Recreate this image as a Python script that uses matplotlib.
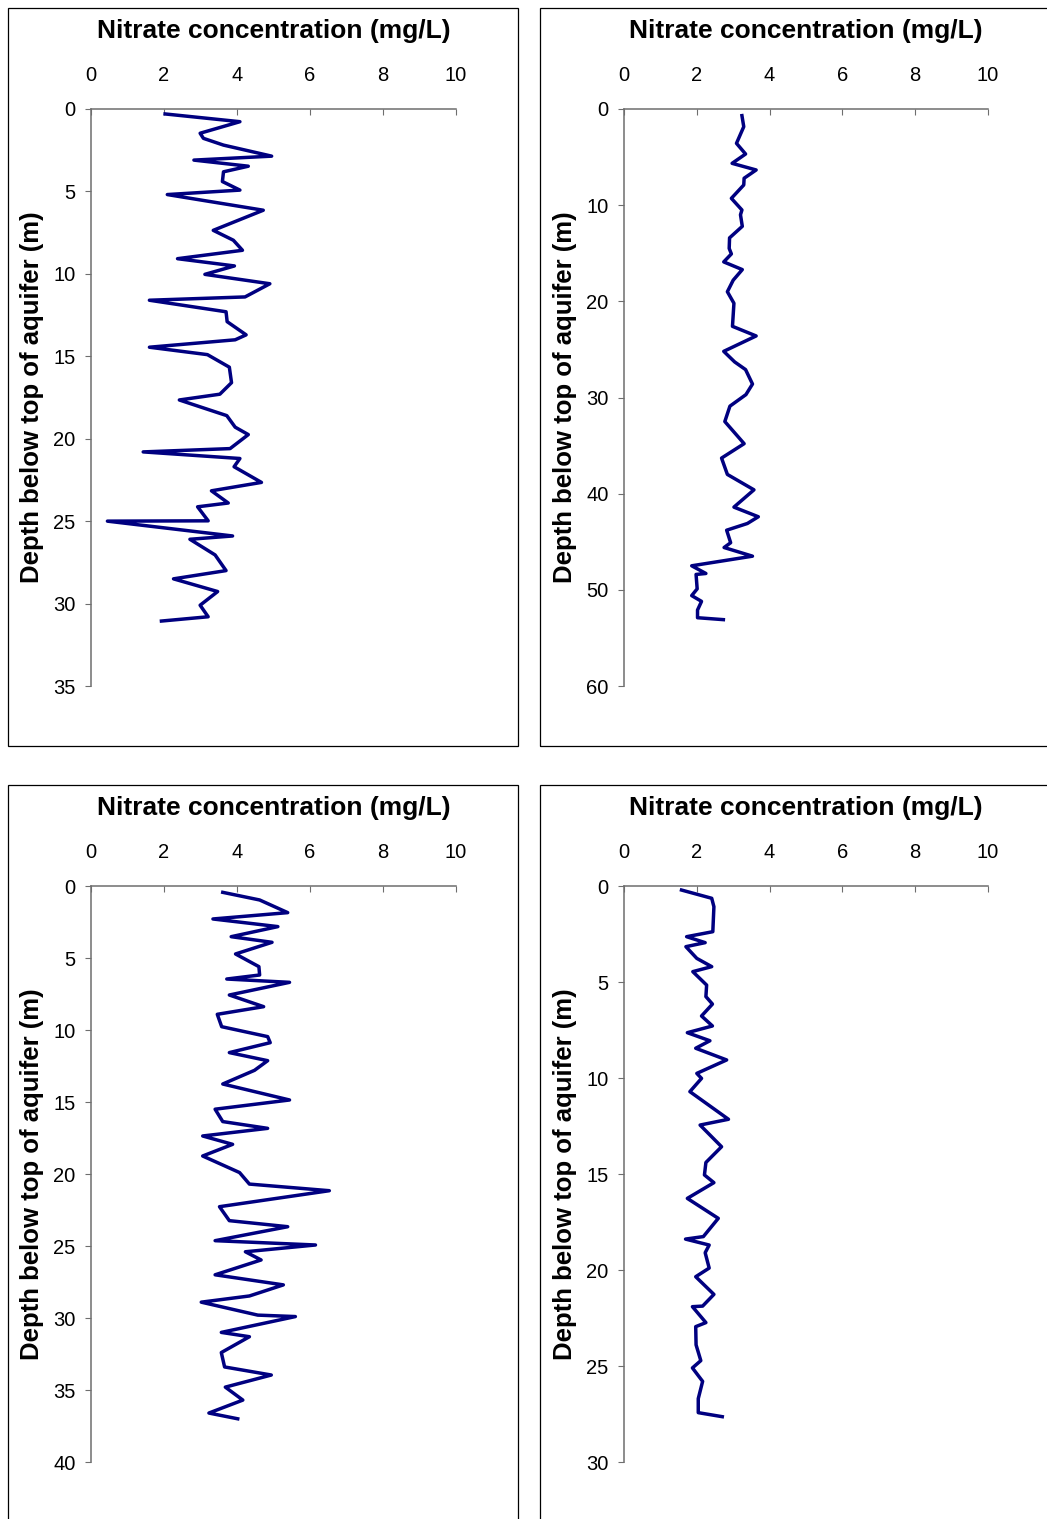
import matplotlib
matplotlib.use("Agg")
import matplotlib.pyplot as plt
from matplotlib.patches import Rectangle

plt.rcParams["font.family"] = ["Liberation Sans", "DejaVu Sans"]

# --- data (nitrate mg/L vs depth m) ---
conc_a = [2.03, 4.08, 2.99, 3.08, 3.63, 4.95, 2.82, 4.31, 3.63, 3.60, 4.08, 2.09, 4.72, 3.35,
          3.90, 4.15, 2.37, 3.93, 3.12, 4.90, 4.22, 1.60, 3.70, 3.73, 4.25, 3.95, 1.60, 3.19,
          3.79, 3.85, 3.53, 2.42, 3.72, 3.95, 4.31, 3.81, 1.43, 4.08, 3.92, 4.67, 3.30, 3.76,
          2.92, 3.21, 0.45, 3.88, 2.71, 3.40, 3.70, 2.26, 3.47, 2.99, 3.21, 1.93]
depth_a = [0.3, 0.77, 1.47, 1.78, 2.19, 2.86, 3.1, 3.47, 3.81, 4.4, 4.92, 5.19, 6.14, 7.36,
           7.96, 8.57, 9.08, 9.52, 10.03, 10.6, 11.4, 11.6, 12.3, 12.9, 13.7, 14.0, 14.45, 14.9,
           15.66, 16.6, 17.3, 17.65, 18.6, 19.3, 19.75, 20.6, 20.8, 21.2, 21.7, 22.65, 23.16, 23.9,
           24.13, 24.98, 25.0, 25.9, 26.1, 27.05, 28.0, 28.5, 29.27, 30.1, 30.8, 31.06]

conc_b = [3.24, 3.29, 3.09, 3.34, 2.97, 3.63, 3.30, 3.29, 2.95, 3.24, 3.20, 3.25, 2.90, 2.89,
          2.95, 2.74, 3.25, 3.00, 2.84, 3.02, 3.00, 2.98, 3.63, 2.74, 3.04, 3.34, 3.53, 3.35,
          2.91, 2.77, 3.30, 2.68, 2.84, 3.57, 3.02, 3.69, 3.39, 2.82, 2.93, 2.75, 3.53, 1.86,
          2.25, 1.98, 2.01, 1.86, 2.13, 2.02, 2.02, 2.73]
depth_b = [0.69, 1.84, 3.57, 4.68, 5.65, 6.34, 7.2, 7.9, 9.29, 10.5, 11.0, 12.2, 13.4, 14.5,
           15.07, 15.9, 16.7, 17.8, 19.0, 20.2, 21.4, 22.6, 23.6, 25.2, 26.3, 27.1, 28.6, 29.7,
           30.9, 32.5, 34.8, 36.3, 38.0, 39.6, 41.4, 42.4, 43.1, 43.8, 45.1, 45.6, 46.5, 47.5,
           48.3, 48.4, 49.9, 50.6, 51.2, 52.1, 52.9, 53.1]

conc_c = [3.61, 4.62, 5.39, 3.34, 5.12, 3.84, 4.96, 3.96, 4.60, 4.62, 3.72, 5.44, 3.79, 4.73,
          3.46, 3.58, 4.84, 4.91, 3.79, 4.84, 4.48, 3.61, 5.44, 3.40, 3.61, 4.84, 3.06, 3.88,
          3.06, 4.07, 4.34, 6.53, 3.52, 3.79, 5.39, 3.40, 6.15, 4.23, 4.66, 3.40, 5.27, 4.34,
          3.02, 4.57, 5.60, 3.57, 4.34, 3.57, 3.66, 4.94, 3.68, 4.16, 3.23, 4.02]
depth_c = [0.44, 0.97, 1.85, 2.29, 2.82, 3.52, 3.91, 4.72, 5.6, 6.18, 6.46, 6.69, 7.57, 8.38,
           8.91, 9.77, 10.46, 10.88, 11.57, 12.13, 12.8, 13.75, 14.86, 15.5, 16.36, 16.83, 17.36, 17.94,
           18.75, 19.9, 20.7, 21.16, 22.27, 23.24, 23.66, 24.63, 24.93, 25.4, 25.97, 27.0, 27.7, 28.47,
           28.9, 29.8, 29.9, 31.0, 31.3, 32.4, 33.4, 33.96, 34.8, 35.7, 36.6, 37.0]

conc_d = [1.58, 2.41, 2.47, 2.44, 1.72, 2.23, 1.70, 2.00, 2.41, 1.89, 2.27, 2.25, 2.43, 2.13,
          2.43, 1.74, 2.36, 1.97, 2.82, 2.00, 2.13, 1.81, 2.87, 2.09, 2.68, 2.25, 2.21, 2.47,
          1.74, 2.59, 2.18, 1.69, 2.34, 2.23, 2.34, 1.97, 2.47, 2.16, 1.88, 2.25, 1.97, 1.98,
          2.11, 1.88, 2.16, 2.04, 2.04, 2.70]
depth_d = [0.21, 0.64, 1.08, 2.38, 2.64, 2.95, 3.16, 3.77, 4.2, 4.46, 5.16, 5.76, 6.15, 6.77,
           7.29, 7.64, 8.06, 8.45, 9.06, 9.76, 10.02, 10.71, 12.15, 12.45, 13.58, 14.4, 15.05, 15.45,
           16.27, 17.31, 18.26, 18.39, 18.7, 19.1, 19.9, 20.35, 21.27, 21.88, 21.91, 22.74, 22.95, 23.9,
           24.72, 25.1, 25.8, 26.7, 27.43, 27.64]

depth_max = [35, 60, 40, 30]
depth_step = [5, 10, 5, 5]
x_ticks = [0, 2, 4, 6, 8, 10]
title = "Nitrate concentration (mg/L)"
ylabel = "Depth below top of aquifer (m)"

W, H = 1047, 1519
fig = plt.figure(figsize=(W / 100, H / 100), dpi=100)

# axes boxes in pixels: left, top, right, bottom
boxes = [(91, 109, 456, 686), (624, 109, 988, 686),
         (91, 886, 456, 1462), (624, 886, 988, 1462)]
frames = [(8, 8, 518, 746), (540, 8, 1060, 746),
          (8, 785, 518, 1530), (540, 785, 1060, 1530)]

for fx0, fy0, fx1, fy1 in frames:
    fig.patches.append(Rectangle((fx0 / W, 1 - fy1 / H), (fx1 - fx0) / W, (fy1 - fy0) / H,
                                 transform=fig.transFigure, fill=False,
                                 edgecolor="black", linewidth=0.9))

series = [(conc_a, depth_a), (conc_b, depth_b), (conc_c, depth_c), (conc_d, depth_d)]

for i, ((x0, y0, x1, y1), (cx, dy)) in enumerate(zip(boxes, series)):
    ax = fig.add_axes([x0 / W, 1 - y1 / H, (x1 - x0) / W, (y1 - y0) / H])
    ax.plot(cx, dy, color="#000080", linewidth=2.5)
    ax.set_xlim(0, 10)
    ax.set_ylim(depth_max[i], 0)
    ax.set_xticks(x_ticks)
    ax.set_yticks(range(0, depth_max[i] + 1, depth_step[i]))
    ax.xaxis.tick_top()
    for s in ("right", "bottom"):
        ax.spines[s].set_visible(False)
    for s in ("left", "top"):
        ax.spines[s].set_color("#6e6e6e")
        ax.spines[s].set_linewidth(1.1)
    ax.tick_params(axis="x", direction="in", length=4, color="#6e6e6e", pad=17,
                   labelsize=14.5)
    ax.tick_params(axis="y", direction="out", length=4, color="#6e6e6e", pad=7,
                   labelsize=14.5)
    # title sits ~77 px above the top axis line
    ax.text(0.5, (y1 - (y0 - 78)) / (y1 - y0), title, transform=ax.transAxes,
            ha="center", va="center", fontsize=19, fontweight="bold")
    ax.set_ylabel(ylabel, fontsize=18.5, fontweight="bold")
    ax.yaxis.set_label_coords(-0.13, 0.5)
    ax.patch.set_alpha(0)

fig.savefig("out.png", dpi=100)
